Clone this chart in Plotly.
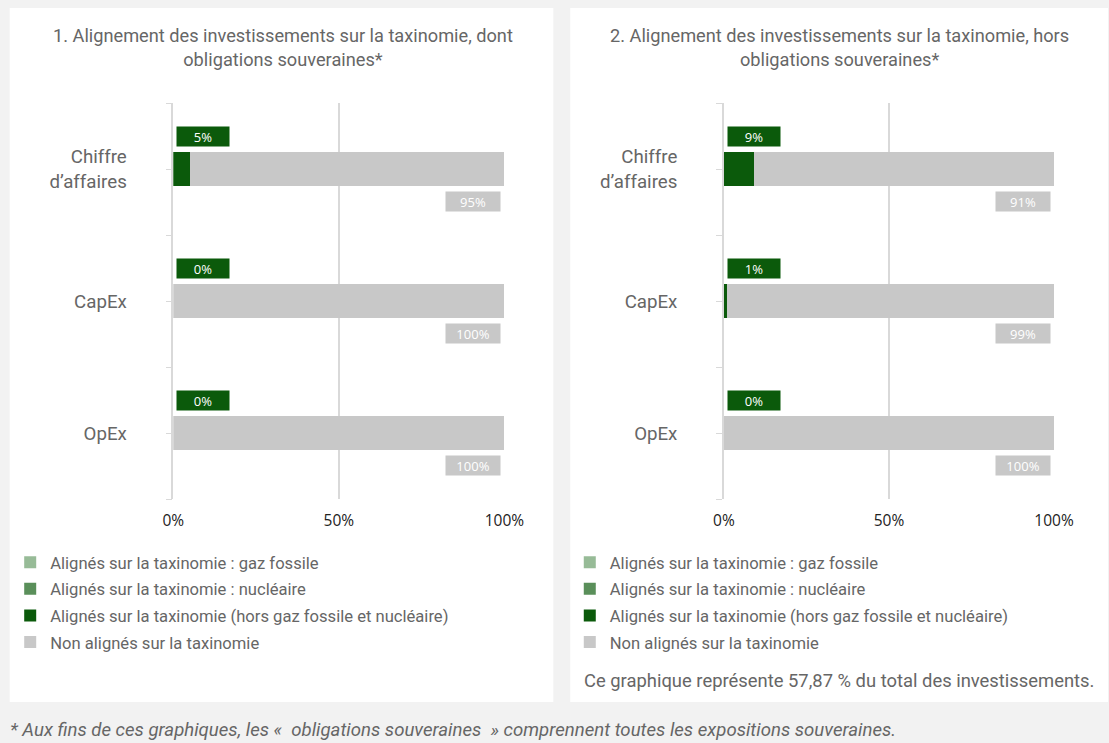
import plotly.graph_objects as go

categories = ["Chiffre<br>d’affaires", "CapEx", "OpEx"]
series_names = [
    "Alignés sur la taxinomie : gaz fossile",
    "Alignés sur la taxinomie : nucléaire",
    "Alignés sur la taxinomie (hors gaz fossile et nucléaire)",
    "Non alignés sur la taxinomie",
]
colors = ["#97bb97", "#5a8f5a", "#0b5a0b", "#c8c8c8"]

# chart 1 (dont obligations souveraines)
c1_gaz = [0, 0, 0]
c1_nuc = [0, 0, 0]
c1_aligned = [5, 0, 0]
c1_non = [95, 100, 100]
# chart 2 (hors obligations souveraines)
c2_gaz = [0, 0, 0]
c2_nuc = [0, 0, 0]
c2_aligned = [9, 1, 0]
c2_non = [91, 99, 100]

x_ticks = [0, 50, 100]
x_ticklabels = ["0%", "50%", "100%"]

titles = [
    "1. Alignement des investissements sur la taxinomie, dont<br>obligations souveraines*",
    "2. Alignement des investissements sur la taxinomie, hors<br>obligations souveraines*",
]
note_right = "Ce graphique représente 57,87 % du total des investissements."
footnote = "* Aux fins de ces graphiques, les «  obligations souveraines  » comprennent toutes les expositions souveraines."

FONT = "Roboto"
TXT = "#666666"
cat_pos = list(range(len(categories)))

# page geometry (viewer maps page x to screen x approximately as 9.3 + 0.975 * x)
W, H = 1128, 743
SX, OX = 0.975, 9.3


def px_x(r):
    return ((r - OX) / SX) / W


def px_y(p):
    return 1 - p / H


fig = go.Figure()

charts = [
    (c1_gaz, c1_nuc, c1_aligned, c1_non, "x", "y", "legend"),
    (c2_gaz, c2_nuc, c2_aligned, c2_non, "x2", "y2", "legend2"),
]
for vals_gaz, vals_nuc, vals_al, vals_non, xa, ya, lg in charts:
    for name, vals, col in zip(series_names, [vals_gaz, vals_nuc, vals_al, vals_non], colors):
        fig.add_trace(go.Bar(
            y=cat_pos, x=vals, name=name, orientation="h",
            marker=dict(color=col, line=dict(width=0)),
            width=0.26, xaxis=xa, yaxis=ya, legend=lg,
            legendgroup=lg + name, hoverinfo="skip",
        ))

# value labels
for vals_al, vals_non, xa, ya in [(c1_aligned, c1_non, "x", "y"), (c2_aligned, c2_non, "x2", "y2")]:
    for pos, a, n in zip(cat_pos, vals_al, vals_non):
        fig.add_annotation(
            x=0, y=pos, xref=xa, yref=ya, xanchor="left", yanchor="middle",
            xshift=3, yshift=33, text=f"{a}%", showarrow=False,
            font=dict(family="Open Sans", size=13, color="white"),
            bgcolor="#0b5a0b", width=48, height=15, borderpad=2, align="center",
        )
        fig.add_annotation(
            x=100, y=pos, xref=xa, yref=ya, xanchor="right", yanchor="middle",
            xshift=-3, yshift=-32, text=f"{n}%", showarrow=False,
            font=dict(family="Open Sans", size=13, color="white"),
            bgcolor="#c8c8c8", width=50, height=15, borderpad=2, align="center",
        )

y_top, y_bot = px_y(103), px_y(499)
xdoms = [(px_x(172), px_x(504)), (px_x(724), px_x(1055))]

axis_common_x = dict(
    range=[0, 100], tickvals=x_ticks, ticktext=x_ticklabels,
    showgrid=True, gridcolor="#d9d9d9", gridwidth=1.5, zeroline=False,
    showline=False, ticks="", ticklabelstandoff=10,
    tickfont=dict(family="Open Sans", size=15.5, color="#222222"), fixedrange=True,
)
axis_common_y = dict(
    range=[len(categories) - 0.5, -0.5], showgrid=False, zeroline=False,
    showline=True, linecolor="#d9d9d9", linewidth=1.5,
    tickvals=cat_pos, ticktext=categories,
    ticks="outside", ticklen=6, tickcolor="#d9d9d9", tickwidth=1,
    minor=dict(tickvals=[p - 0.5 for p in cat_pos] + [cat_pos[-1] + 0.5],
               ticks="outside", ticklen=6, tickcolor="#d9d9d9", tickwidth=1, showgrid=False),
    ticklabelstandoff=35,
    tickfont=dict(family=FONT, size=18.7, color=TXT), fixedrange=True,
)

legend_common = dict(
    xanchor="left", yanchor="top",
    font=dict(family=FONT, size=16.6, color=TXT), bgcolor="rgba(0,0,0,0)",
    traceorder="grouped", tracegroupgap=2, itemclick=False, itemdoubleclick=False,
)

fig.update_layout(
    width=W, height=H, margin=dict(l=0, r=0, t=0, b=0),
    paper_bgcolor="#f2f2f2", plot_bgcolor="rgba(0,0,0,0)",
    barmode="stack", showlegend=True,
    xaxis=dict(domain=list(xdoms[0]), anchor="y", **axis_common_x),
    yaxis=dict(domain=[y_bot, y_top], anchor="x", **axis_common_y),
    xaxis2=dict(domain=list(xdoms[1]), anchor="y2", **axis_common_x),
    yaxis2=dict(domain=[y_bot, y_top], anchor="x2", **axis_common_y),
    legend=dict(x=px_x(8.5), y=px_y(545), **legend_common),
    legend2=dict(x=px_x(569.5), y=px_y(545), **legend_common),
    shapes=[
        dict(type="rect", xref="paper", yref="paper", x0=px_x(8), x1=px_x(553),
             y0=px_y(702), y1=px_y(8), fillcolor="white", line=dict(width=0), layer="below"),
        dict(type="rect", xref="paper", yref="paper", x0=px_x(570), x1=1,
             y0=px_y(702), y1=px_y(8), fillcolor="white", line=dict(width=0), layer="below"),
    ],
)

fig.add_annotation(x=px_x(281.5), y=px_y(48), xref="paper", yref="paper",
                   text=titles[0], showarrow=False, xanchor="center", yanchor="middle",
                   font=dict(family=FONT, size=18.2, color=TXT))
fig.add_annotation(x=px_x(840), y=px_y(48), xref="paper", yref="paper",
                   text=titles[1], showarrow=False, xanchor="center", yanchor="middle",
                   font=dict(family=FONT, size=18.2, color=TXT))
fig.add_annotation(x=px_x(582), y=px_y(680), xref="paper", yref="paper",
                   text=note_right, showarrow=False, xanchor="left", yanchor="middle",
                   font=dict(family=FONT, size=18.4, color=TXT))
fig.add_annotation(x=px_x(6.5), y=px_y(730), xref="paper", yref="paper",
                   text=f"<i>{footnote}</i>", showarrow=False, xanchor="left", yanchor="middle",
                   font=dict(family=FONT, size=18.6, color=TXT))

fig.write_html(
    "out.html",
    config={"displayModeBar": False},
    post_script=(
        "document.body.style.margin='0';document.body.style.overflow='hidden';"
        "document.body.style.background='#f2f2f2';"
        "document.documentElement.style.background='#f2f2f2';"
    ),
)
